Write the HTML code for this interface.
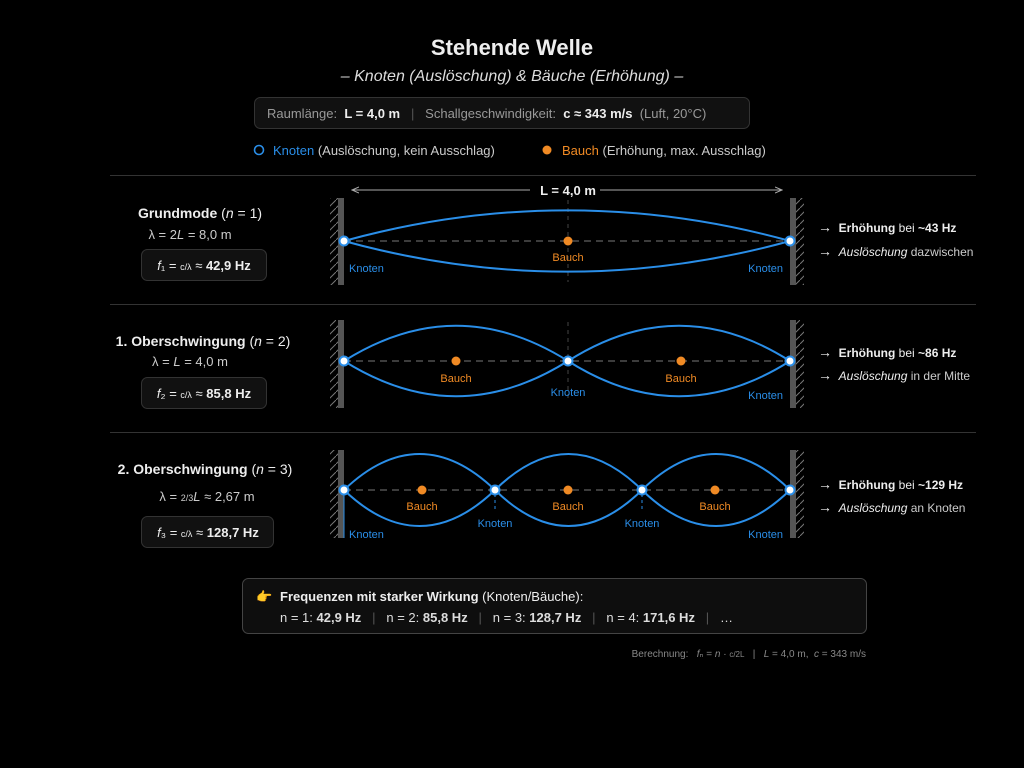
<!DOCTYPE html>
<html><head><meta charset="utf-8"><style>
html,body{margin:0;padding:0;background:#000;}
svg{display:block;}
text{font-family:"Liberation Sans",sans-serif;white-space:pre;}
</style></head><body>
<svg width="1024" height="768" viewBox="0 0 1024 768" xmlns="http://www.w3.org/2000/svg" xml:space="preserve">
<defs>
<pattern id="hl" width="8" height="8" patternUnits="userSpaceOnUse"><path d="M0 8 L8 0" stroke="#777" stroke-width="1"/></pattern>
<marker id="ar" markerWidth="8" markerHeight="8" refX="7" refY="4" orient="auto"><path d="M0 1 L7 4 L0 7" fill="none" stroke="#aaa" stroke-width="1"/></marker>
</defs>
<rect width="1024" height="768" fill="#000"/>
<text x="512" y="55" text-anchor="middle" fill="#eee" font-size="22" font-weight="bold">Stehende Welle</text>
<text x="512" y="81" text-anchor="middle" fill="#ddd" font-size="16" font-style="italic">– Knoten (Auslöschung) &amp; Bäuche (Erhöhung) –</text>
<rect x="254.5" y="97.5" width="495" height="31" rx="6" fill="#111" stroke="#333"/>
<text x="267" y="118" fill="#999" font-size="13">Raumlänge:  <tspan fill="#eee" font-weight="bold">L = 4,0 m</tspan>   <tspan fill="#555">|</tspan>   Schallgeschwindigkeit:  <tspan fill="#eee" font-weight="bold">c ≈ 343 m/s</tspan>  (Luft, 20°C)</text>
<circle cx="259" cy="150" r="4.5" fill="none" stroke="#2a8ee8" stroke-width="1.6"/>
<text x="273" y="155" fill="#ccc" font-size="13"><tspan fill="#2a8ee8">Knoten</tspan> (Auslöschung, kein Ausschlag)</text>
<circle cx="547" cy="150" r="4.5" fill="#f08a24"/>
<text x="562" y="155" fill="#ccc" font-size="13"><tspan fill="#f08a24">Bauch</tspan> (Erhöhung, max. Ausschlag)</text>
<g stroke="#333" stroke-width="1"><line x1="110" y1="175.5" x2="976" y2="175.5"/><line x1="110" y1="304.5" x2="976" y2="304.5"/><line x1="110" y1="432.5" x2="976" y2="432.5"/></g>

<g>
<rect x="330" y="198" width="8" height="87" fill="url(#hl)"/><rect x="338" y="198" width="6" height="87" fill="#555"/>
<rect x="796" y="198" width="8" height="87" fill="url(#hl)"/><rect x="790" y="198" width="6" height="87" fill="#555"/>
<rect x="330" y="320" width="8" height="88" fill="url(#hl)"/><rect x="338" y="320" width="6" height="88" fill="#555"/>
<rect x="796" y="320" width="8" height="88" fill="url(#hl)"/><rect x="790" y="320" width="6" height="88" fill="#555"/>
<rect x="330" y="450" width="8" height="88" fill="url(#hl)"/><rect x="338" y="450" width="6" height="88" fill="#555"/>
<rect x="796" y="450" width="8" height="88" fill="url(#hl)"/><rect x="790" y="450" width="6" height="88" fill="#555"/>
</g>

<line x1="530" y1="190" x2="352" y2="190" stroke="#aaa" marker-end="url(#ar)"/>
<line x1="600" y1="190" x2="782" y2="190" stroke="#aaa" marker-end="url(#ar)"/>
<text x="568" y="195" text-anchor="middle" fill="#eee" font-size="13" font-weight="bold">L = 4,0 m</text>
<line x1="344" y1="241" x2="790" y2="241" stroke="#777" stroke-dasharray="7 5"/>
<line x1="568" y1="200" x2="568" y2="282" stroke="#444" stroke-dasharray="4 4"/>
<path d="M344 241 C493 200 641 200 790 241" fill="none" stroke="#2a8ee8" stroke-width="2"/>
<path d="M344 241 C493 282 641 282 790 241" fill="none" stroke="#2a8ee8" stroke-width="2"/>
<circle cx="568" cy="241" r="4.5" fill="#f08a24"/>
<text x="568" y="261" text-anchor="middle" fill="#f08a24" font-size="11">Bauch</text>
<circle cx="344" cy="241" r="4.5" fill="#fff" stroke="#2a8ee8" stroke-width="2"/>
<circle cx="790" cy="241" r="4.5" fill="#fff" stroke="#2a8ee8" stroke-width="2"/>
<text x="349" y="272" fill="#2a8ee8" font-size="11">Knoten</text>
<text x="783" y="272" text-anchor="end" fill="#2a8ee8" font-size="11">Knoten</text>
<text x="200" y="218" text-anchor="middle" fill="#eee" font-size="14"><tspan font-weight="bold">Grundmode</tspan> (<tspan font-style="italic">n</tspan> = 1)</text>
<text x="190" y="239" text-anchor="middle" fill="#ccc" font-size="13">λ = 2<tspan font-style="italic">L</tspan> = 8,0 m</text>
<rect x="141.5" y="249.5" width="125" height="31" rx="6" fill="#111" stroke="#333"/>
<text x="204" y="270" text-anchor="middle" fill="#eee" font-size="13"><tspan font-style="italic">f</tspan>₁ = <tspan font-size="9">c/λ</tspan> ≈ <tspan font-weight="bold">42,9 Hz</tspan></text>
<text x="818" y="232" fill="#eee" font-size="12"><tspan font-size="14">→</tspan>  <tspan font-weight="bold">Erhöhung</tspan> bei <tspan font-weight="bold">~43 Hz</tspan></text>
<text x="818" y="256" fill="#ccc" font-size="12"><tspan font-size="14" fill="#eee">→</tspan>  <tspan font-style="italic" fill="#eee">Auslöschung</tspan> dazwischen</text>

<line x1="344" y1="361" x2="790" y2="361" stroke="#777" stroke-dasharray="7 5"/>
<line x1="568" y1="322" x2="568" y2="400" stroke="#444" stroke-dasharray="4 4"/>
<path d="M344 361 C419 314 493 314 568 361 C642 408 716 408 790 361" fill="none" stroke="#2a8ee8" stroke-width="2"/>
<path d="M344 361 C419 408 493 408 568 361 C642 314 716 314 790 361" fill="none" stroke="#2a8ee8" stroke-width="2"/>
<circle cx="456" cy="361" r="4.5" fill="#f08a24"/><circle cx="681" cy="361" r="4.5" fill="#f08a24"/>
<text x="456" y="382" text-anchor="middle" fill="#f08a24" font-size="11">Bauch</text>
<text x="681" y="382" text-anchor="middle" fill="#f08a24" font-size="11">Bauch</text>
<circle cx="344" cy="361" r="4.5" fill="#fff" stroke="#2a8ee8" stroke-width="2"/>
<circle cx="568" cy="361" r="4.5" fill="#fff" stroke="#2a8ee8" stroke-width="2"/>
<circle cx="790" cy="361" r="4.5" fill="#fff" stroke="#2a8ee8" stroke-width="2"/>
<text x="568" y="396" text-anchor="middle" fill="#2a8ee8" font-size="11">Knoten</text>
<text x="783" y="399" text-anchor="end" fill="#2a8ee8" font-size="11">Knoten</text>
<text x="203" y="346" text-anchor="middle" fill="#eee" font-size="14"><tspan font-weight="bold">1. Oberschwingung</tspan> (<tspan font-style="italic">n</tspan> = 2)</text>
<text x="190" y="366" text-anchor="middle" fill="#ccc" font-size="13">λ = <tspan font-style="italic">L</tspan> = 4,0 m</text>
<rect x="141.5" y="377.5" width="125" height="31" rx="6" fill="#111" stroke="#333"/>
<text x="204" y="398" text-anchor="middle" fill="#eee" font-size="13"><tspan font-style="italic">f</tspan>₂ = <tspan font-size="9">c/λ</tspan> ≈ <tspan font-weight="bold">85,8 Hz</tspan></text>
<text x="818" y="357" fill="#eee" font-size="12"><tspan font-size="14">→</tspan>  <tspan font-weight="bold">Erhöhung</tspan> bei <tspan font-weight="bold">~86 Hz</tspan></text>
<text x="818" y="380" fill="#ccc" font-size="12"><tspan font-size="14" fill="#eee">→</tspan>  <tspan font-style="italic" fill="#eee">Auslöschung</tspan> in der Mitte</text>

<line x1="344" y1="490" x2="790" y2="490" stroke="#777" stroke-dasharray="7 5"/>
<path d="M344 490 C394 442 445 442 495 490 C544 538 593 538 642 490 C691 442 741 442 790 490" fill="none" stroke="#2a8ee8" stroke-width="2"/>
<path d="M344 490 C394 538 445 538 495 490 C544 442 593 442 642 490 C691 538 741 538 790 490" fill="none" stroke="#2a8ee8" stroke-width="2"/>
<line x1="344" y1="490" x2="344" y2="538" stroke="#2a8ee8"/>
<line x1="495" y1="494" x2="495" y2="512" stroke="#2a8ee8" stroke-dasharray="3 3"/>
<line x1="642" y1="494" x2="642" y2="512" stroke="#2a8ee8" stroke-dasharray="3 3"/>
<circle cx="422" cy="490" r="4.5" fill="#f08a24"/><circle cx="568" cy="490" r="4.5" fill="#f08a24"/><circle cx="715" cy="490" r="4.5" fill="#f08a24"/>
<text x="422" y="510" text-anchor="middle" fill="#f08a24" font-size="11">Bauch</text>
<text x="568" y="510" text-anchor="middle" fill="#f08a24" font-size="11">Bauch</text>
<text x="715" y="510" text-anchor="middle" fill="#f08a24" font-size="11">Bauch</text>
<circle cx="344" cy="490" r="4.5" fill="#fff" stroke="#2a8ee8" stroke-width="2"/>
<circle cx="495" cy="490" r="4.5" fill="#fff" stroke="#2a8ee8" stroke-width="2"/>
<circle cx="642" cy="490" r="4.5" fill="#fff" stroke="#2a8ee8" stroke-width="2"/>
<circle cx="790" cy="490" r="4.5" fill="#fff" stroke="#2a8ee8" stroke-width="2"/>
<text x="349" y="538" fill="#2a8ee8" font-size="11">Knoten</text>
<text x="495" y="527" text-anchor="middle" fill="#2a8ee8" font-size="11">Knoten</text>
<text x="642" y="527" text-anchor="middle" fill="#2a8ee8" font-size="11">Knoten</text>
<text x="783" y="538" text-anchor="end" fill="#2a8ee8" font-size="11">Knoten</text>
<text x="205" y="474" text-anchor="middle" fill="#eee" font-size="14"><tspan font-weight="bold">2. Oberschwingung</tspan> (<tspan font-style="italic">n</tspan> = 3)</text>
<text x="207" y="501" text-anchor="middle" fill="#ccc" font-size="13">λ = <tspan font-size="9">2/3</tspan><tspan font-style="italic">L</tspan> ≈ 2,67 m</text>
<rect x="141.5" y="516.5" width="132" height="31" rx="6" fill="#111" stroke="#333"/>
<text x="208" y="537" text-anchor="middle" fill="#eee" font-size="13"><tspan font-style="italic">f</tspan>₃ = <tspan font-size="9">c/λ</tspan> ≈ <tspan font-weight="bold">128,7 Hz</tspan></text>
<text x="818" y="489" fill="#eee" font-size="12"><tspan font-size="14">→</tspan>  <tspan font-weight="bold">Erhöhung</tspan> bei <tspan font-weight="bold">~129 Hz</tspan></text>
<text x="818" y="512" fill="#ccc" font-size="12"><tspan font-size="14" fill="#eee">→</tspan>  <tspan font-style="italic" fill="#eee">Auslöschung</tspan> an Knoten</text>

<rect x="242.5" y="578.5" width="624" height="55" rx="6" fill="#0e0e0e" stroke="#444"/>
<text x="256" y="601" fill="#f5b323" font-size="13">👉</text>
<text x="280" y="601" fill="#eee" font-size="13"><tspan font-weight="bold">Frequenzen mit starker Wirkung</tspan> (Knoten/Bäuche):</text>
<text x="280" y="622" fill="#ddd" font-size="13">n = 1: <tspan font-weight="bold">42,9 Hz</tspan>   <tspan fill="#555">|</tspan>   n = 2: <tspan font-weight="bold">85,8 Hz</tspan>   <tspan fill="#555">|</tspan>   n = 3: <tspan font-weight="bold">128,7 Hz</tspan>   <tspan fill="#555">|</tspan>   n = 4: <tspan font-weight="bold">171,6 Hz</tspan>   <tspan fill="#555">|</tspan>   …</text>
<text x="866" y="657" text-anchor="end" fill="#888" font-size="10">Berechnung:   <tspan font-style="italic">f</tspan>ₙ = <tspan font-style="italic">n</tspan> · <tspan font-size="8">c/2L</tspan>   |   <tspan font-style="italic">L</tspan> = 4,0 m,  <tspan font-style="italic">c</tspan> = 343 m/s</text>
</svg>
</body></html>
